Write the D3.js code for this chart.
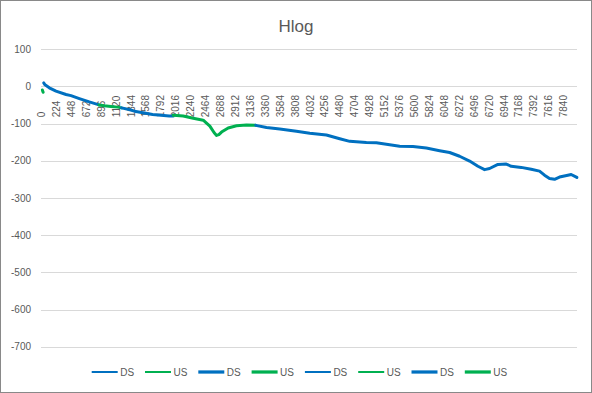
<!DOCTYPE html>
<html>
<head>
<meta charset="utf-8">
<script src="https://cdn.jsdelivr.net/npm/d3@7"></script>
<style>
    body { margin: 0; background: #fff; }
    text { font-family: "Liberation Sans", Arial, sans-serif; fill: #595959; }
</style>
</head>
<body>
<div id="visContainer"></div>
<script>
'use strict';  //treat silly mistakes as run-time errors

// number of tones (categories) on the x axis
var TONE_COUNT = 8048;

var X_TICKS = [0, 224, 448, 672, 896, 1120, 1344, 1568, 1792, 2016, 2240, 2464,
               2688, 2912, 3136, 3360, 3584, 3808, 4032, 4256, 4480, 4704, 4928,
               5152, 5376, 5600, 5824, 6048, 6272, 6496, 6720, 6944, 7168, 7392,
               7616, 7840];
var Y_TICKS = [100, 0, -100, -200, -300, -400, -500, -600, -700];

// tone index / hlog value per band
var US0_TONE = [20, 26, 32];
var US0_VAL  = [-10, -13, -16];

var DS1_TONE = [40, 60, 124, 225, 375, 450, 575, 725, 870];
var DS1_VAL  = [9, 4, -4, -13, -22, -25, -33, -42, -50];

var US1_TONE = [870, 950, 1050, 1150, 1210];
var US1_VAL  = [-50, -52, -54, -56, -58];

var DS2_TONE = [1210, 1335, 1425, 1550, 1675, 1800, 1925, 1985];
var DS2_VAL  = [-58, -63, -68, -72, -76, -78, -80, -80];

var US2_TONE = [1985, 2135, 2285, 2435, 2535, 2600, 2636, 2670, 2710, 2810, 2935, 3085, 3225];
var US2_VAL  = [-78, -80, -86, -91, -107, -125, -132, -130, -123, -112, -106, -104, -105];

var DS3_TONE = [3225, 3385, 3585, 3835, 4035, 4285, 4485, 4635, 4885, 5035, 5235, 5385,
                5585, 5785, 5985, 6135, 6285, 6435, 6560, 6660, 6735, 6860, 6985, 7060,
                7210, 7360, 7485, 7560, 7635, 7710, 7785, 7910, 7960, 8045];
var DS3_VAL  = [-105, -111, -115, -121, -126, -131, -141, -148, -151, -152, -157, -161,
                -162, -166, -173, -178, -188, -201, -215, -224, -221, -210, -209, -215,
                -218, -223, -228, -239, -248, -250, -244, -239, -237, -245];

var LEGEND_NAMES  = ["DS", "US", "DS", "US", "DS", "US", "DS", "US"];
var LEGEND_COLORS = ["#0070C0", "#00B050", "#0070C0", "#00B050", "#0070C0", "#00B050", "#0070C0", "#00B050"];
var LEGEND_WIDTHS = [2, 2, 3.25, 3.25, 2, 2, 3.25, 3.25];

function zip(tones, vals) {
    var returned = [];
    for (var i = 0; i < tones.length; i++) {
        returned.push([tones[i], vals[i]]);
    }
    return returned;
}

function draw_chart() {
    var width = 592;
    var height = 393;
    var blue = "#0070C0";
    var green = "#00B050";

    var series = [
        {color: green, data: zip(US0_TONE, US0_VAL)},
        {color: blue,  data: zip(DS1_TONE, DS1_VAL)},
        {color: green, data: zip(US1_TONE, US1_VAL)},
        {color: blue,  data: zip(DS2_TONE, DS2_VAL)},
        {color: green, data: zip(US2_TONE, US2_VAL)},
        {color: blue,  data: zip(DS3_TONE, DS3_VAL)}
    ];

    var svg = d3.select('#visContainer')
        .append("svg")
        .attr('width', width)
        .attr('height', height);

    // chart frame
    svg.append("rect")
        .attr("x", 0.5).attr("y", 0.5)
        .attr("width", width - 1).attr("height", height - 1)
        .style("fill", "#fff")
        .style("stroke", "#898989");

    var x = d3.scaleLinear()
        .domain([-0.5, TONE_COUNT - 0.5])
        .range([41, 577]);
    var y = d3.scaleLinear()
        .domain([-700, 100])
        .range([346.7, 49.1]);

    // title
    svg.append("text")
        .attr("x", 296)
        .attr("y", 32)
        .attr("text-anchor", "middle")
        .style("font-size", "17px")
        .text("Hlog");

    // value gridlines + labels (plain hyphen minus like excel)
    var yAxis = d3.axisLeft(y)
        .tickValues(Y_TICKS)
        .tickSize(-(x.range()[1] - x.range()[0]))
        .tickPadding(10)
        .tickFormat(function(d) { return String(d); });
    var gy = svg.append("g")
        .attr("transform", "translate(41,0)")
        .call(yAxis);
    gy.select(".domain").remove();
    gy.selectAll(".tick line").style("stroke", "#d9d9d9").attr("shape-rendering", "crispEdges");
    gy.selectAll(".tick text")
        .style("font-size", "10px")
        .style("fill", "#595959")
        .style("font-family", "Liberation Sans, Arial, sans-serif");

    // category labels, rotated, under the zero line
    var xAxis = d3.axisBottom(x)
        .tickValues(X_TICKS)
        .tickSize(0)
        .tickFormat(function(d) { return String(d); });
    var gx = svg.append("g")
        .attr("transform", "translate(0," + y(0) + ")")
        .call(xAxis);
    gx.select(".domain").remove();
    gx.selectAll(".tick text")
        .attr("y", 0)
        .attr("x", 0)
        .attr("dy", "0.35em")
        .attr("text-anchor", "start")
        .attr("transform", "translate(0,31) rotate(-90)")
        .style("font-size", "10px")
        .style("fill", "#595959")
        .style("font-family", "Liberation Sans, Arial, sans-serif");

    // the bands
    var line = d3.line()
        .x(function(d) { return x(d[0]); })
        .y(function(d) { return y(d[1]); });
    svg.selectAll(".band")
        .data(series)
      .enter().append("path")
        .attr("class", "band")
        .attr("d", function(d) { return line(d.data); })
        .style("fill", "none")
        .style("stroke", function(d) { return d.color; })
        .style("stroke-width", 3)
        .style("stroke-linejoin", "round")
        .style("stroke-linecap", "round");

    // legend
    var legend = svg.selectAll(".legend")
        .data(LEGEND_NAMES)
      .enter().append("g")
        .attr("class", "legend")
        .attr("transform", function(d, i) { return "translate(" + (91.7 + i * 53.3) + ",372)"; });
    legend.append("line")
        .attr("x1", 0).attr("x2", 26)
        .style("stroke", function(d, i) { return LEGEND_COLORS[i]; })
        .style("stroke-width", function(d, i) { return LEGEND_WIDTHS[i]; });
    legend.append("text")
        .attr("x", 28.5)
        .attr("dy", "0.35em")
        .style("font-size", "10px")
        .text(function(d) { return d; });
}

draw_chart();
</script>
</body>
</html>
